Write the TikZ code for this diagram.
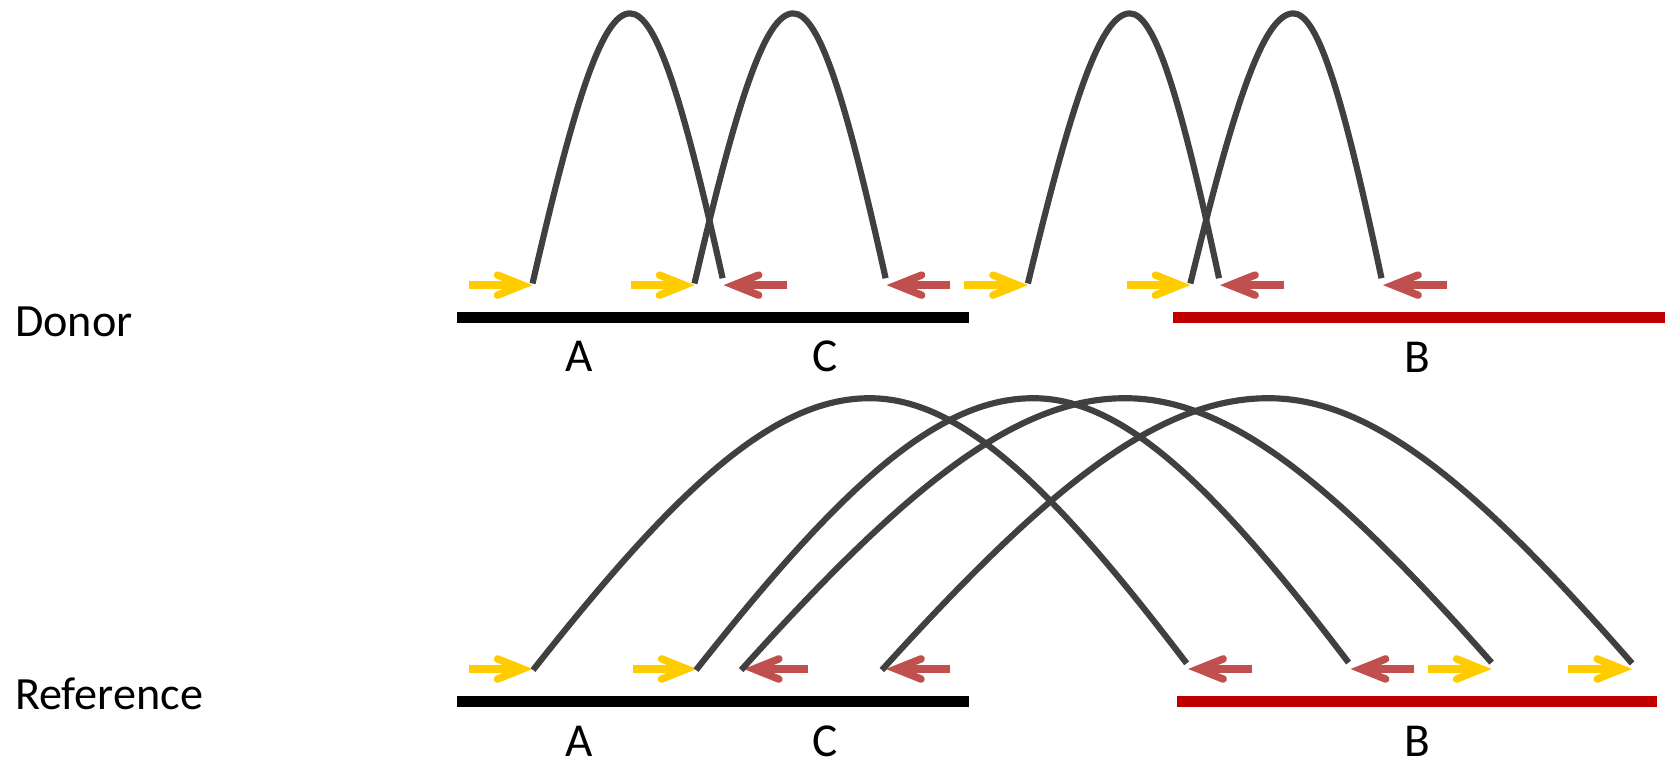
\documentclass[tikz,border=0pt]{standalone}
\usepackage{fontspec}
\setmainfont{Carlito}
\usetikzlibrary{calc}
\definecolor{arcgray}{HTML}{404040}
\definecolor{primeryellow}{HTML}{FFCC00}
\definecolor{primerred}{HTML}{C0504D}
\definecolor{segred}{HTML}{C00000}
\tikzset{
  arcline/.style={draw=arcgray, line width=5.8pt, line cap=butt},
  segment/.style={line width=10pt, line cap=butt},
  primershaft/.style={line width=7pt, line cap=butt},
  primerhead/.style={line width=7pt, line cap=round, line join=miter},
  rowname/.style={inner sep=0pt, font=\fontsize{43.5}{50}\selectfont},
  seglabel/.style={inner sep=0pt, text depth=0pt, font=\fontsize{44.5}{50}\selectfont},
}
\newcommand\fwdprimer[1]{%
  \draw[primershaft, primeryellow] ([xshift=-60pt]#1) -- ([xshift=-12pt]#1);
  \draw[primerhead, primeryellow] ([xshift=-33pt,yshift=9.5pt]#1) -- ([xshift=-9.3pt]#1) -- ([xshift=-33pt,yshift=-9.5pt]#1);}
\newcommand\revprimer[1]{%
  \draw[primershaft, primerred] ([xshift=60pt]#1) -- ([xshift=12pt]#1);
  \draw[primerhead, primerred] ([xshift=33pt,yshift=9.5pt]#1) -- ([xshift=9.3pt]#1) -- ([xshift=33pt,yshift=-9.5pt]#1);}
\newcommand\bump[3]{%
  \draw[arcline] let \p1=(#1), \p2=(#2), \p3=(#3) in
    (#1) .. controls ({\x1+0.425*(\x2-\x1)},{\y1+0.667*(\y2-\y1)}) and ({\x1+0.7125*(\x2-\x1)},\y2) .. (#2)
         .. controls ({\x2+0.2875*(\x3-\x2)},\y2) and ({\x2+0.575*(\x3-\x2)},{\y3+0.667*(\y2-\y3)}) .. (#3);}
\begin{document}
\begin{tikzpicture}[x=1pt,y=-1pt]
\useasboundingbox (0,0) rectangle (1568,718);

% row names
\node[rowname, anchor=base west] (donor) at (14,317) {Donor};
\node[rowname, anchor=base west] (reference) at (14,668.6) {Reference};

% segments
\coordinate (dA0) at (430.5,299);
\coordinate (dA1) at (912.4,299);
\coordinate (dB0) at (1105,299);
\coordinate (dB1) at (1568,299);
\coordinate (rA0) at (430.5,660.5);
\coordinate (rA1) at (912.4,660.5);
\coordinate (rB0) at (1108,660.5);
\coordinate (rB1) at (1560,660.5);
\draw[segment, black] (dA0) -- (dA1);
\draw[segment, segred] (dB0) -- (dB1);
\draw[segment, black] (rA0) -- (rA1);
\draw[segment, segred] (rB0) -- (rB1);

% segment labels
\node[seglabel, anchor=base] (dlA) at (545,349.5) {A};
\node[seglabel, anchor=base] (dlC) at (777,349.5) {C};
\node[seglabel, anchor=base] (dlB) at (1334.6,350.5) {B};
\node[seglabel, anchor=base] (rlA) at (545,712.5) {A};
\node[seglabel, anchor=base] (rlC) at (777,712.5) {C};
\node[seglabel, anchor=base] (rlB) at (1334.6,712.5) {B};

% donor primers
\coordinate (dY1) at (501.5,268.5);
\coordinate (dY2) at (654,268.5);
\coordinate (dY3) at (968,268.5);
\coordinate (dY4) at (1121,268.5);
\coordinate (dR1) at (681.5,268.5);
\coordinate (dR2) at (835,268.5);
\coordinate (dR3) at (1149,268.5);
\coordinate (dR4) at (1302.5,268.5);
\fwdprimer{dY1}\fwdprimer{dY2}\fwdprimer{dY3}\fwdprimer{dY4}
\revprimer{dR1}\revprimer{dR2}\revprimer{dR3}\revprimer{dR4}

% reference primers
\coordinate (rY1) at (501.5,630);
\coordinate (rY2) at (656,630);
\coordinate (rY3) at (1404.7,630);
\coordinate (rY4) at (1537,630);
\coordinate (rR1) at (700.5,630);
\coordinate (rR2) at (834.4,630);
\coordinate (rR3) at (1119,630);
\coordinate (rR4) at (1272,630);
\fwdprimer{rY1}\fwdprimer{rY2}\fwdprimer{rY3}\fwdprimer{rY4}
\revprimer{rR1}\revprimer{rR2}\revprimer{rR3}\revprimer{rR4}

% donor arcs
\coordinate (dS1) at (501.5,267);
\coordinate (dS2) at (654,267);
\coordinate (dS3) at (968,267);
\coordinate (dS4) at (1121,267);
\coordinate (dP1) at (593.3,12.6);
\coordinate (dP2) at (747,12.6);
\coordinate (dP3) at (1064,12.6);
\coordinate (dP4) at (1218,12.6);
\coordinate (dE1) at (680.5,262);
\coordinate (dE2) at (834,262);
\coordinate (dE3) at (1148,262);
\coordinate (dE4) at (1301,262);
\bump{dS1}{dP1}{dE1}
\bump{dS2}{dP2}{dE2}
\bump{dS3}{dP3}{dE3}
\bump{dS4}{dP4}{dE4}

% reference arcs
\coordinate (rS1) at (502,631);
\coordinate (rS2) at (655.5,631);
\coordinate (rS3) at (698,631);
\coordinate (rS4) at (830.5,631);
\coordinate (rP1) at (819,375);
\coordinate (rP2) at (973,375);
\coordinate (rP3) at (1059.5,375);
\coordinate (rP4) at (1194.4,375);
\coordinate (rE1) at (1117.5,624.7);
\coordinate (rE2) at (1270,624);
\coordinate (rE3) at (1404.7,624);
\coordinate (rE4) at (1537,624.7);
\bump{rS1}{rP1}{rE1}
\bump{rS2}{rP2}{rE2}
\bump{rS3}{rP3}{rE3}
\bump{rS4}{rP4}{rE4}
\end{tikzpicture}
\end{document}
